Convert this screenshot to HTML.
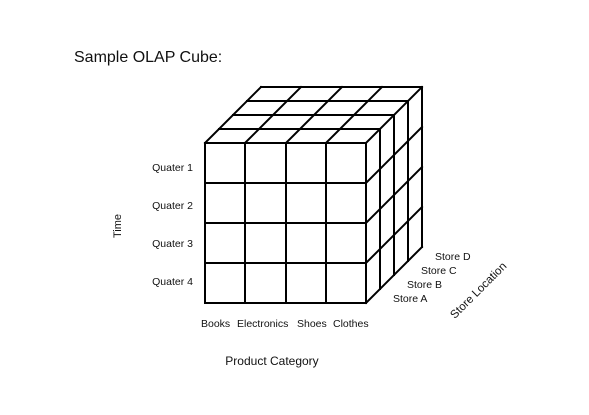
<!DOCTYPE html>
<html><head><style>
html,body{margin:0;padding:0;background:#fff;}
svg{display:block;font-family:"Liberation Sans",sans-serif;}
</style></head><body>
<svg width="589" height="415" viewBox="0 0 589 415" xmlns="http://www.w3.org/2000/svg">
<rect width="589" height="415" fill="#fff"/>
<text x="74" y="62" font-size="16" fill="#111">Sample OLAP Cube:</text>
<g stroke="#000" stroke-width="2" fill="none" stroke-linecap="square">
<rect x="205" y="143" width="161" height="160"/>
<line x1="245" y1="143" x2="245" y2="303"/>
<line x1="286" y1="143" x2="286" y2="303"/>
<line x1="326" y1="143" x2="326" y2="303"/>
<line x1="205" y1="183" x2="366" y2="183"/>
<line x1="205" y1="223" x2="366" y2="223"/>
<line x1="205" y1="263" x2="366" y2="263"/>
<line x1="219" y1="129" x2="380" y2="129"/>
<line x1="233" y1="115" x2="394" y2="115"/>
<line x1="247" y1="101" x2="408" y2="101"/>
<line x1="261" y1="87" x2="422" y2="87"/>
<line x1="205" y1="143" x2="261" y2="87"/>
<line x1="245" y1="143" x2="301" y2="87"/>
<line x1="286" y1="143" x2="342" y2="87"/>
<line x1="326" y1="143" x2="382" y2="87"/>
<line x1="366" y1="143" x2="422" y2="87"/>
<line x1="380" y1="129" x2="380" y2="289"/>
<line x1="394" y1="115" x2="394" y2="275"/>
<line x1="408" y1="101" x2="408" y2="261"/>
<line x1="422" y1="87" x2="422" y2="247"/>
<line x1="366" y1="183" x2="422" y2="127"/>
<line x1="366" y1="223" x2="422" y2="167"/>
<line x1="366" y1="263" x2="422" y2="207"/>
<line x1="366" y1="303" x2="422" y2="247"/>
</g>
<g font-size="10.5" fill="#111">
<text x="193" y="171" text-anchor="end">Quater 1</text>
<text x="193" y="209" text-anchor="end">Quater 2</text>
<text x="193" y="247" text-anchor="end">Quater 3</text>
<text x="193" y="285" text-anchor="end">Quater 4</text>
<text x="201" y="327">Books</text>
<text x="237" y="327">Electronics</text>
<text x="297" y="327">Shoes</text>
<text x="333" y="327">Clothes</text>
<text x="393" y="302">Store A</text>
<text x="407" y="288">Store B</text>
<text x="421" y="274">Store C</text>
<text x="435" y="260">Store D</text>
<text x="0" y="0" transform="translate(121,226) rotate(-90)" text-anchor="middle" font-size="11">Time</text>
<text x="0" y="0" transform="translate(481,293) rotate(-45)" text-anchor="middle" font-size="11.5">Store Location</text>
<text x="272" y="365" text-anchor="middle" font-size="12">Product Category</text>
</g>
</svg>
</body></html>
